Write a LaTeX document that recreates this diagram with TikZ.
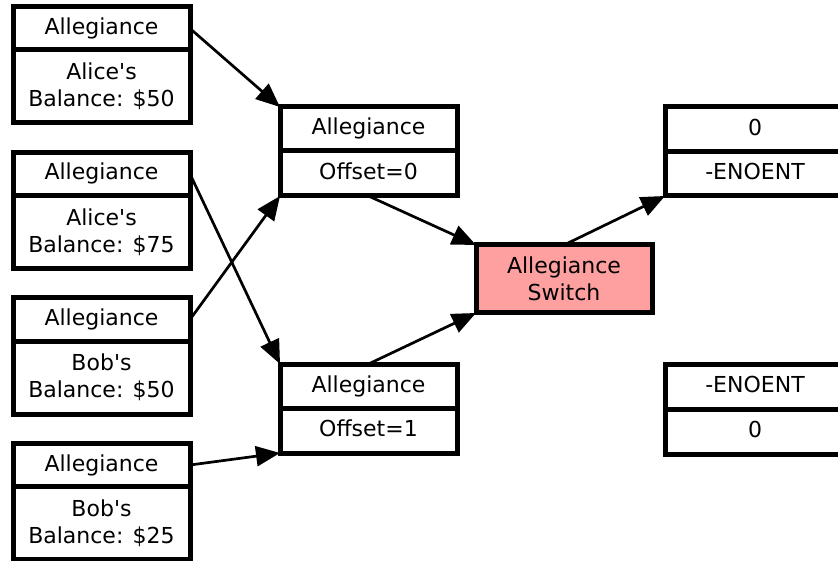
\documentclass[tikz,border=0pt]{standalone}
\usepackage{fontspec}
\setmainfont{DejaVu Sans}
\usetikzlibrary{arrows.meta}
\definecolor{switchfill}{RGB}{255,160,160}
\begin{document}
\begin{tikzpicture}[x=1pt,y=-1pt,
  cell/.style={draw=black, line width=5pt, fill=white, inner sep=0pt, outer sep=0pt,
    align=center, font=\fontsize{22}{27}\selectfont},
  oneline/.style={text height=16pt, text depth=4pt},
  leftcell/.style={cell, minimum width=177pt},
  midcell/.style={cell, oneline, minimum width=177pt},
  rightcell/.style={cell, oneline, minimum width=180pt},
  link/.style={line width=2.7pt, -{Triangle[length=24pt,width=20pt]}}]
\useasboundingbox (0,0) rectangle (838,561);
\clip (0,0) rectangle (838,561);

% account records on the left
\node[leftcell, oneline, minimum height=43pt] (l1t) at (101.5,28.5) {Allegiance};
\node[leftcell, minimum height=73pt] (l1b) at (101.5,86.5) {Alice\textquotesingle s\\Balance: \$50};
\node[leftcell, oneline, minimum height=43pt] (l2t) at (101.5,174) {Allegiance};
\node[leftcell, minimum height=73pt] (l2b) at (101.5,232) {Alice\textquotesingle s\\Balance: \$75};
\node[leftcell, oneline, minimum height=43pt] (l3t) at (101.5,319.5) {Allegiance};
\node[leftcell, minimum height=73pt] (l3b) at (101.5,377.5) {Bob\textquotesingle s\\Balance: \$50};
\node[leftcell, oneline, minimum height=43pt] (l4t) at (101.5,465) {Allegiance};
\node[leftcell, minimum height=73pt] (l4b) at (101.5,523) {Bob\textquotesingle s\\Balance: \$25};

% allegiance offsets
\node[midcell, minimum height=44pt] (m1t) at (368.5,129) {Allegiance};
\node[midcell, minimum height=45pt] (m1b) at (368.5,173.5) {Offset=0};
\node[midcell, minimum height=44pt] (m2t) at (368.5,386) {Allegiance};
\node[midcell, minimum height=45pt] (m2b) at (368.5,430.5) {Offset=1};

% switch
\node[cell, fill=switchfill, minimum width=176pt, minimum height=68pt] (sw) at (564,279) {Allegiance\\Switch};

% results
\node[rightcell, minimum height=45pt] (r1t) at (755,129.5) {0};
\node[rightcell, minimum height=44pt] (r1b) at (755,174) {-ENOENT};
\node[rightcell, minimum height=45pt] (r2t) at (755,386.5) {-ENOENT};
\node[rightcell, minimum height=45pt] (r2b) at (755,431.5) {0};

% connectors
\draw[link] (l1t.east) -- (m1t.north west);
\draw[link] (l2t.east) -- (m2t.north west);
\draw[link] (l3t.east) -- (m1b.south west);
\draw[link] (l4t.east) -- (m2b.south west);
\draw[link] (m1b.south) -- (sw.north west);
\draw[link] (m2t.north) -- (sw.south west);
\draw[link] (sw.north) -- (r1b.south west);
\end{tikzpicture}
\end{document}
